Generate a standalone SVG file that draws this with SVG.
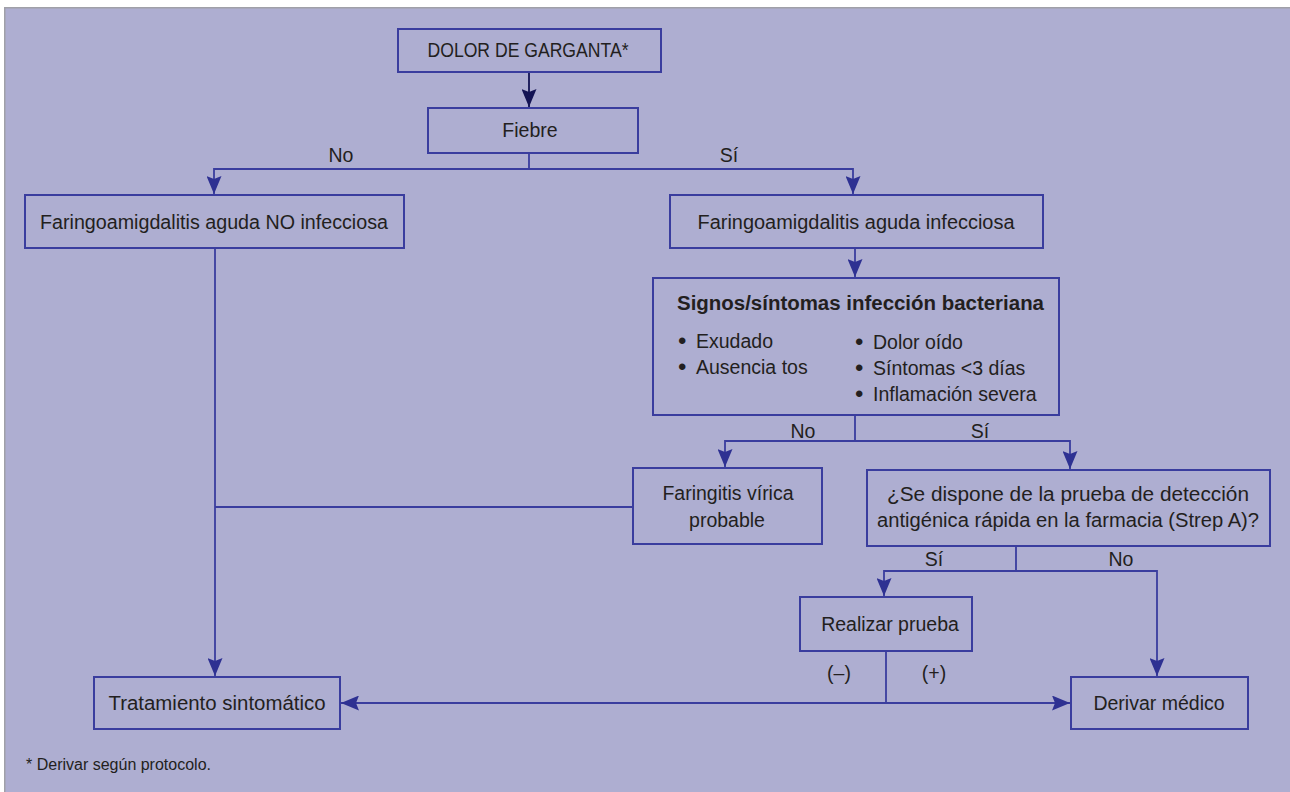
<svg xmlns="http://www.w3.org/2000/svg" width="1290" height="792" viewBox="0 0 1290 792">
<defs>
<style>
.box{fill:none;stroke:#3a3d9e;stroke-width:2}
.ln{fill:none;stroke:#3a3d9e;stroke-width:1.8}
.t{font-family:"Liberation Sans",Arial,sans-serif;font-size:19.5px;fill:#231f20;text-anchor:middle}
.tl{font-family:"Liberation Sans",Arial,sans-serif;font-size:19.5px;fill:#231f20}
.bu{font-size:24px}
.b{font-weight:bold}
.fn{font-family:"Liberation Sans",Arial,sans-serif;font-size:16px;fill:#231f20}
</style>
<marker id="ah" viewBox="0 0 18 15" refX="18" refY="7.5" markerWidth="18" markerHeight="15" markerUnits="userSpaceOnUse" orient="auto">
<path d="M0,0 L18,7.5 L0,15 L3,7.5 z" fill="#2e3192"/>
</marker>
<marker id="ahd" viewBox="0 0 18 15" refX="18" refY="7.5" markerWidth="18" markerHeight="15" markerUnits="userSpaceOnUse" orient="auto">
<path d="M0,0 L18,7.5 L0,15 L3,7.5 z" fill="#141454"/>
</marker>
</defs>
<rect x="0" y="0" width="1290" height="792" fill="#ffffff"/>
<rect x="5" y="8" width="1285" height="784" fill="#aeaed1"/>
<path d="M4.75,792 V7.75 H1290" fill="none" stroke="#a0a0a8" stroke-width="1.5"/>

<g id="connectors">
<line x1="529" y1="72" x2="529" y2="107" stroke="#141454" stroke-width="1.8" marker-end="url(#ahd)"/>
<polyline class="ln" points="529,153 529,169 214,169 214,194" marker-end="url(#ah)"/>
<polyline class="ln" points="529,169 853,169 853,194" marker-end="url(#ah)"/>
<line class="ln" x1="855" y1="248" x2="855" y2="277" marker-end="url(#ah)"/>
<polyline class="ln" points="855,415 855,441 725,441 725,467" marker-end="url(#ah)"/>
<polyline class="ln" points="855,441 1070,441 1070,469" marker-end="url(#ah)"/>
<polyline class="ln" points="1016,546 1016,571 884,571 884,596" marker-end="url(#ah)"/>
<polyline class="ln" points="1016,571 1157,571 1157,676" marker-end="url(#ah)"/>
<line class="ln" x1="215" y1="248" x2="215" y2="676" marker-end="url(#ah)"/>
<line class="ln" x1="633" y1="507" x2="215" y2="507"/>
<line class="ln" x1="886" y1="651" x2="886" y2="703"/>
<line class="ln" x1="886" y1="703" x2="341" y2="703" marker-end="url(#ah)"/>
<line class="ln" x1="886" y1="703" x2="1070" y2="703" marker-end="url(#ah)"/>
<text class="t" x="341" y="162">No</text>
<text class="t" x="729" y="162">Sí</text>
<text class="t" x="803" y="438">No</text>
<text class="t" x="980" y="438">Sí</text>
<text class="t" x="934" y="566">Sí</text>
<text class="t" x="1121" y="566">No</text>
<text class="t" x="839" y="680">(–)</text>
<text class="t" x="934" y="680">(+)</text>
</g>

<g id="n-dolor">
<rect class="box" x="398" y="29" width="263" height="43"/>
<text class="t" x="528" y="57" textLength="201" lengthAdjust="spacingAndGlyphs">DOLOR DE GARGANTA*</text>
</g>
<g id="n-fiebre">
<rect class="box" x="428" y="108" width="210" height="45"/>
<text class="t" x="530" y="137">Fiebre</text>
</g>
<g id="n-noinf">
<rect class="box" x="25" y="195" width="379" height="53"/>
<text class="t" x="214" y="229" textLength="348" lengthAdjust="spacingAndGlyphs">Faringoamigdalitis aguda NO infecciosa</text>
</g>
<g id="n-inf">
<rect class="box" x="670" y="195" width="373" height="53"/>
<text class="t" x="856" y="229" textLength="317" lengthAdjust="spacingAndGlyphs">Faringoamigdalitis aguda infecciosa</text>
</g>
<g id="n-signos">
<rect class="box" x="653" y="278" width="406" height="137"/>
<text class="tl b" x="677" y="310" textLength="367" lengthAdjust="spacingAndGlyphs">Signos/síntomas infección bacteriana</text>
<text class="tl" x="678" y="348"><tspan class="bu" dy="1">•</tspan><tspan x="696" dy="-1">Exudado</tspan></text>
<text class="tl" x="678" y="374"><tspan class="bu" dy="1">•</tspan><tspan x="696" dy="-1">Ausencia tos</tspan></text>
<text class="tl" x="855" y="349"><tspan class="bu" dy="1">•</tspan><tspan x="873" dy="-1">Dolor oído</tspan></text>
<text class="tl" x="855" y="375"><tspan class="bu" dy="1">•</tspan><tspan x="873" dy="-1">Síntomas &lt;3 días</tspan></text>
<text class="tl" x="855" y="401"><tspan class="bu" dy="1">•</tspan><tspan x="873" dy="-1">Inflamación severa</tspan></text>
</g>
<g id="n-virica">
<rect class="box" x="633" y="468" width="189" height="76"/>
<text class="t" x="728" y="500">Faringitis vírica</text>
<text class="t" x="727" y="527">probable</text>
</g>
<g id="n-strep">
<rect class="box" x="867" y="470" width="403" height="76"/>
<text class="t" x="1068" y="501" textLength="362" lengthAdjust="spacingAndGlyphs">¿Se dispone de la prueba de detección</text>
<text class="t" x="1068" y="527" textLength="382" lengthAdjust="spacingAndGlyphs">antigénica rápida en la farmacia (Strep A)?</text>
</g>
<g id="n-realizar">
<rect class="box" x="800" y="597" width="172" height="54"/>
<text class="t" x="890" y="631">Realizar prueba</text>
</g>
<g id="n-tratamiento">
<rect class="box" x="94" y="677" width="246" height="52"/>
<text class="t" x="217" y="710" textLength="217" lengthAdjust="spacingAndGlyphs">Tratamiento sintomático</text>
</g>
<g id="n-derivar">
<rect class="box" x="1071" y="677" width="177" height="52"/>
<text class="t" x="1159" y="710">Derivar médico</text>
</g>
<text class="fn" x="26" y="770">* Derivar según protocolo.</text>
</svg>
